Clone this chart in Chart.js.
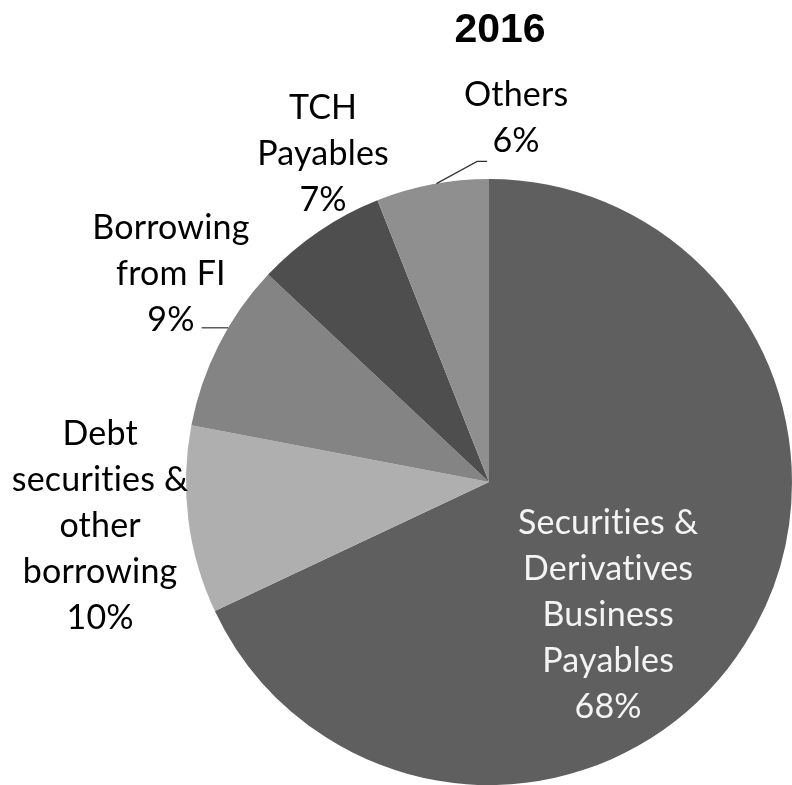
<!DOCTYPE html>
<html>
<head>
<meta charset="utf-8">
<script src="https://cdn.jsdelivr.net/npm/chart.js@4/dist/chart.umd.min.js"></script>
<style>
  html, body { margin: 0; padding: 0; background: #fff; }
  canvas { display: block; }
</style>
</head>
<body>
<canvas id="pie" width="792" height="785"></canvas>
<script>
const title = '2016';
const categories = [
  'Securities & Derivatives Business Payables',
  'Debt securities & other borrowing',
  'Borrowing from FI',
  'TCH Payables',
  'Others',
];
// Label text as wrapped in the picture, one entry per line.
const labelLines = [
  ['Securities &', 'Derivatives', 'Business', 'Payables'],
  ['Debt', 'securities &', 'other', 'borrowing'],
  ['Borrowing', 'from FI'],
  ['TCH', 'Payables'],
  ['Others'],
];
const shares = [68, 10, 9, 7, 6];
const sliceColors = ['#5f5f5f', '#afafaf', '#848484', '#4e4e4e', '#8f8f8f'];

// Where each label block sits, relative to the pie: radius factor and an
// angular nudge (degrees) from the slice's mid angle. Leader = draw a line.
const labelPlace = [
  { f: 0.617, nudge: 18, color: '#f4f4f4' },
  { f: 1.296, nudge: -0.8, color: '#000' },
  { f: 1.235, nudge: 4.8, color: '#000', leader: 'flat' },
  { f: 1.182, nudge: 6.6, color: '#000' },
  { f: 1.167, nudge: 15.2, color: '#000', leader: 'elbow' },
];

const LABEL_FONT = '34px Lato, "Open Sans", sans-serif';
const LINE_H = 46;

const pieLabels = {
  id: 'pieLabels',
  afterDatasetsDraw(chart) {
    const ctx = chart.ctx;
    const arcs = chart.getDatasetMeta(0).data;
    ctx.save();
    ctx.font = LABEL_FONT;
    // a hair of spacing keeps Lato from fusing "ti" into a ligature
    ctx.letterSpacing = '0.2px';
    ctx.textAlign = 'center';
    ctx.textBaseline = 'alphabetic';
    arcs.forEach((arc, i) => {
      const { x: cx, y: cy, outerRadius: r, startAngle, endAngle } = arc.getProps(['x', 'y', 'outerRadius', 'startAngle', 'endAngle']);
      const p = labelPlace[i];
      const mid = (startAngle + endAngle) / 2;
      const a = mid + p.nudge * Math.PI / 180;
      const lx = cx + Math.cos(a) * r * p.f;
      const ly = cy + Math.sin(a) * r * p.f;
      const lines = labelLines[i].concat([shares[i] + '%']);
      const first = ly - (lines.length - 1) * LINE_H / 2;
      ctx.fillStyle = p.color;
      lines.forEach((t, k) => ctx.fillText(t, lx, first + k * LINE_H));
      const last = first + (lines.length - 1) * LINE_H;

      ctx.strokeStyle = '#333';
      ctx.lineWidth = 1.2;
      if (p.leader === 'flat') {
        const y = last - 3;
        const x0 = lx + ctx.measureText(lines[lines.length - 1]).width / 2 + 7;
        const x1 = cx - Math.sqrt(r * r - (y - cy) * (y - cy));
        ctx.beginPath(); ctx.moveTo(x0, y); ctx.lineTo(x1, y); ctx.stroke();
      } else if (p.leader === 'elbow') {
        const y = last + 9;
        const ea = mid + 0.8 * Math.PI / 180;
        ctx.beginPath();
        ctx.moveTo(cx + Math.cos(ea) * r, cy + Math.sin(ea) * r);
        ctx.lineTo(lx - 39, y);
        ctx.lineTo(lx - 29, y);
        ctx.stroke();
      }
    });
    ctx.restore();
  },
  afterDraw(chart) {
    const ctx = chart.ctx;
    ctx.save();
    ctx.font = 'bold 41px "Liberation Sans", Arial, sans-serif';
    ctx.fillStyle = '#000';
    ctx.textAlign = 'center';
    ctx.textBaseline = 'alphabetic';
    ctx.fillText(title, 500, 42);
    ctx.restore();
  },
};

new Chart(document.getElementById('pie'), {
  type: 'pie',
  data: {
    labels: categories,
    datasets: [{ data: shares, backgroundColor: sliceColors, borderWidth: 0 }],
  },
  options: {
    responsive: false,
    animation: false,
    layout: { padding: { top: 179, left: 186, right: 0, bottom: 0 } },
    plugins: { legend: { display: false }, tooltip: { enabled: false } },
  },
  plugins: [pieLabels],
});
</script>
</body>
</html>
